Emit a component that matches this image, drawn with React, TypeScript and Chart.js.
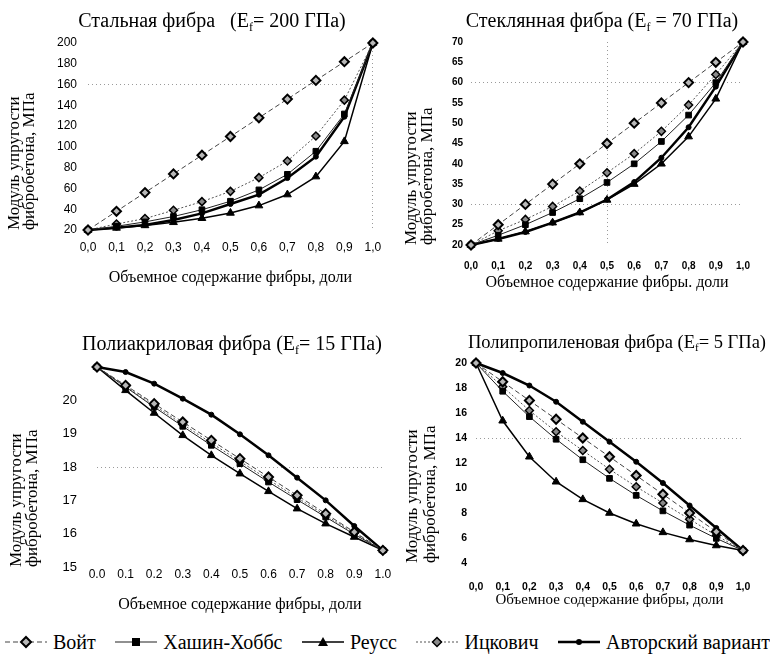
import React, { useEffect, useRef } from 'react';
import { Chart, registerables } from 'chart.js';

Chart.register(...registerables);

// ---------- data ----------
const volumeLabelsComma = ['0,0', '0,1', '0,2', '0,3', '0,4', '0,5', '0,6', '0,7', '0,8', '0,9', '1,0'];
const volumeLabelsDot = ['0.0', '0.1', '0.2', '0.3', '0.4', '0.5', '0.6', '0.7', '0.8', '0.9', '1.0'];

const seriesNames = ['Войт', 'Хашин-Хоббс', 'Реусс', 'Ицкович', 'Авторский вариант'];

// Steel fibre (Ef = 200 GPa)
const steelVoigt = [20, 38, 56, 74, 92, 110, 128, 146, 164, 182, 200];
const steelHashin = [20, 23.6, 27.8, 33, 39.5, 47.7, 58.6, 73.6, 95.8, 131.7, 200];
const steelReuss = [20, 22, 24.4, 27.4, 31.3, 36.4, 43.5, 54.1, 71.4, 105.3, 200];
const steelItskovich = [20, 25.8, 31, 39, 47.3, 57.2, 70.4, 86.4, 110.5, 145, 200];
const steelAuthor = [20, 22.2, 24.8, 29.6, 36, 45, 54, 70, 90.6, 129, 200];

// Glass fibre (Ef = 70 GPa)
const glassVoigt = [20, 25, 30, 35, 40, 45, 50, 55, 60, 65, 70];
const glassHashin = [20, 22.4, 25, 28, 31.4, 35.4, 40, 45.5, 52, 60, 70];
const glassReuss = [20, 21.5, 23.3, 25.5, 28, 31.1, 35, 40, 46.7, 56, 70];
const glassItskovich = [20, 23.5, 26.3, 29.5, 33.3, 37.8, 42.5, 48, 54.5, 62, 70];
const glassAuthor = [20, 21.5, 23.2, 25.5, 28, 31.2, 35.5, 41.5, 49, 59, 70];

// Polyacrylic fibre (Ef = 15 GPa)
const acrylVoigt = [21, 20.45, 19.9, 19.35, 18.8, 18.25, 17.7, 17.15, 16.6, 16.05, 15.5];
const acrylHashin = [21, 20.4, 19.8, 19.22, 18.65, 18.1, 17.55, 17.02, 16.5, 15.98, 15.5];
const acrylReuss = [21, 20.3, 19.62, 18.95, 18.35, 17.8, 17.27, 16.75, 16.3, 15.9, 15.5];
const acrylItskovich = [21, 20.42, 19.85, 19.28, 18.72, 18.17, 17.62, 17.08, 16.55, 16.02, 15.5];
const acrylAuthor = [21, 20.85, 20.5, 20.05, 19.57, 18.98, 18.35, 17.68, 17.0, 16.23, 15.5];

// Polypropylene fibre (Ef = 5 GPa)
const propVoigt = [20, 18.5, 17, 15.5, 14, 12.5, 11, 9.5, 8, 6.5, 5];
const propHashin = [20, 17.74, 15.71, 13.9, 12.26, 10.77, 9.41, 8.17, 7.03, 5.97, 5];
const propReuss = [20, 15.38, 12.5, 10.5, 9.09, 8, 7.14, 6.45, 5.88, 5.4, 5];
const propItskovich = [20, 18.1, 16.2, 14.5, 13.0, 11.5, 10.1, 8.8, 7.5, 6.2, 5];
const propAuthor = [20, 19.2, 18.2, 16.9, 15.3, 13.7, 12.1, 10.4, 8.6, 6.8, 5];

const yTitleLines = ['Модуль упругости', 'фибробетона, МПа'];

// ---------- styles ----------
const SERIF = '"Liberation Serif", "Times New Roman", serif';
const SANS = '"Liberation Sans", Arial, sans-serif';

const seriesStyles: any[] = [
  { borderColor: '#444', borderWidth: 1, borderDash: [5, 3], pointStyle: 'rectRot', pointRadius: 4.5, pointBackgroundColor: '#b8b8b8', pointBorderColor: '#000', pointBorderWidth: 2 },
  { borderColor: '#222', borderWidth: 1, borderDash: [], pointStyle: 'rect', pointRadius: 4, pointBackgroundColor: '#000', pointBorderColor: '#000', pointBorderWidth: 1 },
  { borderColor: '#000', borderWidth: 1.5, borderDash: [], pointStyle: 'triangle', pointRadius: 4.5, pointBackgroundColor: '#000', pointBorderColor: '#000', pointBorderWidth: 1 },
  { borderColor: '#555', borderWidth: 1, borderDash: [2, 2], pointStyle: 'rectRot', pointRadius: 4, pointBackgroundColor: '#8a8a8a', pointBorderColor: '#000', pointBorderWidth: 1.5 },
  { borderColor: '#000', borderWidth: 2.5, borderDash: [], pointStyle: 'circle', pointRadius: 2.5, pointBackgroundColor: '#000', pointBorderColor: '#000', pointBorderWidth: 1 },
];

const subTitlePlugin = {
  id: 'subTitle',
  afterDraw(chart: any, _args: any, opts: any) {
    const { ctx } = chart;
    const { pre, sub, post, x, y, size } = opts;
    ctx.save();
    ctx.fillStyle = '#000';
    ctx.textBaseline = 'middle';
    ctx.textAlign = 'left';
    const font = `${size}px ${SERIF}`;
    const subFont = `${Math.round(size * 0.62)}px ${SERIF}`;
    ctx.font = font;
    const w1 = ctx.measureText(pre).width;
    const w3 = ctx.measureText(post).width;
    ctx.font = subFont;
    const w2 = ctx.measureText(sub).width;
    const sx = x - (w1 + w2 + w3) / 2;
    ctx.font = font;
    ctx.fillText(pre, sx, y);
    ctx.font = subFont;
    ctx.fillText(sub, sx + w1, y + size * 0.3);
    ctx.font = font;
    ctx.fillText(post, sx + w1 + w2, y);
    ctx.restore();
  },
};

type Spec = {
  rect: { left: number; top: number; width: number; height: number };
  area: { left: number; top: number; right: number; bottom: number };
  title: { pre: string; sub: string; post: string; x: number; y: number; size: number };
  labels: string[];
  series: number[][];
  yMin: number; yMax: number; yStep: number; yHide?: number[];
  yTickSize: number; yTickBold: boolean; yTickRight: number;
  xTickSize: number; xTickBold: boolean; xTickY: number;
  xTitle: string; xTitleY: number; xTitleSize: number;
  yTitleX: number; yTitleSize: number; yTitleLH: number;
  gridY: number[]; gridX: number[];
};

const specs: Spec[] = [
  {
    rect: { left: 0, top: 0, width: 392, height: 295 },
    area: { left: 88, top: 43, right: 380, bottom: 230 },
    title: { pre: 'Стальная фибра   (E', sub: 'f', post: '= 200 ГПа)', x: 212, y: 22, size: 20 },
    labels: volumeLabelsComma,
    series: [steelVoigt, steelHashin, steelReuss, steelItskovich, steelAuthor],
    yMin: 20, yMax: 200, yStep: 20,
    yTickSize: 12, yTickBold: false, yTickRight: 77,
    xTickSize: 12, xTickBold: false, xTickY: 248,
    xTitle: 'Объемное содержание фибры, доли', xTitleY: 278, xTitleSize: 16,
    yTitleX: 15, yTitleSize: 17, yTitleLH: 15,
    gridY: [160], gridX: [10],
  },
  {
    rect: { left: 392, top: 0, width: 378, height: 295 },
    area: { left: 471, top: 42, right: 743, bottom: 245 },
    title: { pre: 'Стеклянная фибра (E', sub: 'f', post: ' = 70 ГПа)', x: 602, y: 22, size: 20 },
    labels: volumeLabelsComma,
    series: [glassVoigt, glassHashin, glassReuss, glassItskovich, glassAuthor],
    yMin: 20, yMax: 70, yStep: 5,
    yTickSize: 10, yTickBold: true, yTickRight: 463,
    xTickSize: 10, xTickBold: true, xTickY: 266,
    xTitle: 'Объемное содержание фибры. доли', xTitleY: 283, xTitleSize: 16,
    yTitleX: 412, yTitleSize: 17, yTitleLH: 16,
    gridY: [60, 30], gridX: [5],
  },
  {
    rect: { left: 0, top: 300, width: 392, height: 320 },
    area: { left: 97, top: 367, right: 383, bottom: 567 },
    title: { pre: 'Полиакриловая фибра (E', sub: 'f', post: '= 15 ГПа)', x: 232, y: 345, size: 20 },
    labels: volumeLabelsDot,
    series: [acrylVoigt, acrylHashin, acrylReuss, acrylItskovich, acrylAuthor],
    yMin: 15, yMax: 21, yStep: 1, yHide: [21],
    yTickSize: 13, yTickBold: false, yTickRight: 77,
    xTickSize: 12, xTickBold: false, xTickY: 575,
    xTitle: 'Объемное содержание фибры, доли', xTitleY: 605, xTitleSize: 16,
    yTitleX: 17, yTitleSize: 17, yTitleLH: 16,
    gridY: [18], gridX: [],
  },
  {
    rect: { left: 392, top: 300, width: 378, height: 320 },
    area: { left: 476, top: 363, right: 743, bottom: 563 },
    title: { pre: 'Полипропиленовая фибра (E', sub: 'f', post: '= 5 ГПа)', x: 617, y: 343, size: 18.5 },
    labels: volumeLabelsComma,
    series: [propVoigt, propHashin, propReuss, propItskovich, propAuthor],
    yMin: 4, yMax: 20, yStep: 2,
    yTickSize: 10.5, yTickBold: true, yTickRight: 467,
    xTickSize: 10.5, xTickBold: true, xTickY: 587,
    xTitle: 'Объемное содержание фибры, доли', xTitleY: 600, xTitleSize: 15,
    yTitleX: 413, yTitleSize: 17, yTitleLH: 18,
    gridY: [14], gridX: [],
  },
];

function Panel({ spec }: { spec: Spec }) {
  const ref = useRef<HTMLCanvasElement>(null);
  useEffect(() => {
    const s = spec;
    const r = s.rect;
    const a = s.area;
    const xTickLH = s.xTickSize * 1.2;
    const xTitleLH = s.xTitleSize * 1.2;
    const gridCol = '#9a9a9a';
    const chart = new Chart(ref.current as HTMLCanvasElement, {
      type: 'line',
      data: {
        labels: s.labels,
        datasets: s.series.map((d, i) => ({
          label: seriesNames[i],
          data: d,
          ...seriesStyles[i],
          fill: false,
          tension: 0,
          clip: false,
        })),
      },
      options: {
        responsive: false,
        animation: false,
        events: [],
        layout: {
          padding: { top: a.top - r.top, left: 0, right: r.left + r.width - a.right, bottom: 0 },
        },
        plugins: {
          legend: { display: false },
          tooltip: { enabled: false },
          subTitle: { ...s.title, x: s.title.x - r.left, y: s.title.y - r.top },
        } as any,
        scales: {
          x: {
            type: 'category',
            offset: false,
            grid: {
              drawTicks: false,
              color: (c: any) => (s.gridX.includes(c.index) ? gridCol : 'rgba(0,0,0,0)'),
            },
            border: { display: false, dash: [1, 3] },
            ticks: {
              autoSkip: false,
              maxRotation: 0,
              color: '#000',
              font: { family: SANS, size: s.xTickSize, weight: s.xTickBold ? 'bold' : 'normal' },
              padding: Math.max(0, s.xTickY - a.bottom - xTickLH / 2),
            },
            title: {
              display: true,
              text: s.xTitle,
              color: '#000',
              font: { family: SERIF, size: s.xTitleSize, lineHeight: 1.2 },
              padding: { top: 0, bottom: r.top + r.height - s.xTitleY - xTitleLH / 2 },
            },
            afterFit: (sc: any) => {
              sc.height = r.top + r.height - a.bottom;
            },
          },
          y: {
            type: 'linear',
            min: s.yMin,
            max: s.yMax,
            grid: {
              drawTicks: false,
              color: (c: any) => (c.tick && s.gridY.includes(c.tick.value) ? gridCol : 'rgba(0,0,0,0)'),
            },
            border: { display: false, dash: [1, 3] },
            ticks: {
              stepSize: s.yStep,
              color: '#000',
              font: { family: SANS, size: s.yTickSize, weight: s.yTickBold ? 'bold' : 'normal' },
              padding: a.left - s.yTickRight,
              callback: (v: any) => (s.yHide && s.yHide.includes(v) ? '' : String(v)),
            },
            title: {
              display: true,
              text: yTitleLines,
              align: 'start',
              color: '#000',
              font: { family: SERIF, size: s.yTitleSize, lineHeight: s.yTitleLH / s.yTitleSize },
              padding: { top: s.yTitleX - r.left - s.yTitleLH / 2, bottom: 0 },
            },
            afterFit: (sc: any) => {
              sc.width = a.left - r.left;
            },
          },
        },
      } as any,
      plugins: [subTitlePlugin],
    });
    return () => chart.destroy();
  }, [spec]);
  return (
    <canvas
      ref={ref}
      width={spec.rect.width}
      height={spec.rect.height}
      style={{ position: 'absolute', left: spec.rect.left, top: spec.rect.top, width: spec.rect.width, height: spec.rect.height }}
    />
  );
}

function LegendMarker({ index }: { index: number }) {
  const st = seriesStyles[index];
  const w = 44;
  const cy = 8;
  const cx = w / 2;
  let marker: React.ReactNode = null;
  if (st.pointStyle === 'rectRot') {
    const d = st.pointRadius + 0.5;
    marker = (
      <polygon
        points={`${cx},${cy - d} ${cx + d},${cy} ${cx},${cy + d} ${cx - d},${cy}`}
        fill={st.pointBackgroundColor}
        stroke="#000"
        strokeWidth={st.pointBorderWidth}
      />
    );
  } else if (st.pointStyle === 'rect') {
    const d = st.pointRadius;
    marker = <rect x={cx - d} y={cy - d} width={2 * d} height={2 * d} fill="#000" />;
  } else if (st.pointStyle === 'triangle') {
    const d = st.pointRadius + 0.5;
    marker = <polygon points={`${cx},${cy - d} ${cx + d},${cy + d * 0.8} ${cx - d},${cy + d * 0.8}`} fill="#000" />;
  } else {
    marker = <circle cx={cx} cy={cy} r={st.pointRadius + 0.5} fill="#000" />;
  }
  return (
    <svg width={w} height={16} style={{ display: 'block' }}>
      <line
        x1={1}
        y1={cy}
        x2={w - 1}
        y2={cy}
        stroke={st.borderColor}
        strokeWidth={Math.max(1.2, st.borderWidth)}
        strokeDasharray={st.borderDash && st.borderDash.length ? st.borderDash.join(' ') : undefined}
      />
      {marker}
    </svg>
  );
}

export default function App() {
  return (
    <div style={{ position: 'absolute', left: 0, top: 0, width: 770, height: 664, background: '#fff', overflow: 'hidden' }}>
      {specs.map((s, i) => (
        <Panel key={i} spec={s} />
      ))}
      <div
        style={{
          position: 'absolute',
          left: 4,
          top: 629,
          width: 766,
          height: 26,
          display: 'flex',
          alignItems: 'center',
          justifyContent: 'space-between',
          fontFamily: SERIF,
          fontSize: 20,
          color: '#000',
          whiteSpace: 'nowrap',
        }}
      >
        {seriesNames.map((n, i) => (
          <div key={i} style={{ display: 'flex', alignItems: 'center', gap: 5 }}>
            <LegendMarker index={i} />
            <span>{n}</span>
          </div>
        ))}
      </div>
    </div>
  );
}
